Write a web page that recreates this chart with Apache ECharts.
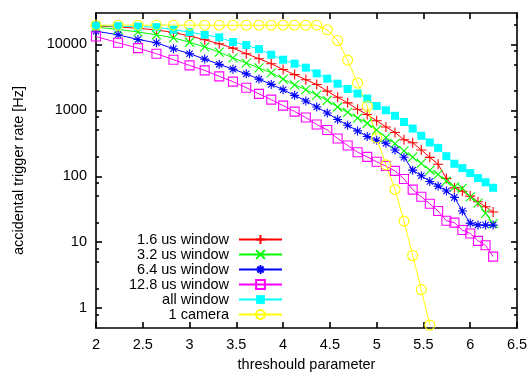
<!DOCTYPE html>
<html>
<head>
<meta charset="utf-8">
<script src="https://cdn.jsdelivr.net/npm/echarts@6/dist/echarts.min.js"></script>
<style>
  html, body { margin: 0; padding: 0; background: #fff; }
  #chart { width: 530px; height: 372px; }
</style>
</head>
<body>
<div id="chart"></div>
<script>
// threshold parameter at each measured point
const threshold = [2, 2.236, 2.449, 2.646, 2.828, 3, 3.162, 3.317, 3.464, 3.606, 3.742, 3.873,
  4, 4.123, 4.243, 4.359, 4.472, 4.583, 4.690, 4.796, 4.899, 5, 5.099, 5.196,
  5.292, 5.385, 5.477, 5.568, 5.657, 5.745, 5.831, 5.916, 6, 6.083, 6.164, 6.245];

// accidental trigger rates [Hz]
const rate16 = [19050, 18400, 17600, 16600, 15200, 13450, 11800, 10250, 8790, 7240, 6080, 5110,
  4160, 3490, 2920, 2470, 1960, 1580, 1300, 1040, 864, 695, 561, 463,
  359, 323, 251, 194, 152, 92.9, 66.8, 59.2, 50.1, 41.1, 34.5, 28.7];
const rate32 = [18300, 16900, 15500, 14000, 12600, 10800, 9170, 7650, 6260, 5220, 4410, 3710,
  2990, 2440, 2070, 1710, 1420, 1125, 936, 765, 638, 505, 387, 314,
  244, 195, 157, 123, 107, 84.5, 69.3, 65.5, 48.9, 39.3, 27.4, 19.2];
const rate64 = [15900, 14000, 11900, 10600, 8610, 7240, 6000, 4990, 4220, 3580, 2980, 2480,
  2060, 1690, 1390, 1125, 914, 726, 595, 488, 401, 352, 318, 251,
  195, 124, 102, 83.6, 71, 60, 47.9, 29.7, 19.5, 18.2, 18.2, 18.2];
const rate128 = [13200, 10600, 8790, 7240, 5870, 4810, 4040, 3280, 2730, 2210, 1780, 1455,
  1180, 959, 778, 612, 505, 374, 293, 232, 197, 166, 143, 121,
  91.2, 62.8, 48.9, 38.3, 29.7, 21.2, 19.8, 15.3, 13.6, 10.5, 9.0, 6.04];
const rateAll = [19400, 18900, 18600, 18300, 16700, 15400, 14000, 12800, 10900, 9770, 8500, 6980,
  5870, 5110, 4440, 3640, 3030, 2540, 2110, 1800, 1510, 1165, 1003, 828,
  667, 530, 412, 326, 270, 202, 155, 133, 112, 94, 81, 67];
const rateCamera = [19600, 19600, 19600, 19600, 19600, 19600, 19600, 19600, 19600, 19600, 19600, 19600,
  19600, 19600, 19600, 19600, 16700, 11500, 5790, 2600, 1165, 382, 149, 63.2,
  20.9, 6.3, 1.91, 0.553];

const seriesNames = ['1.6 us window', '3.2 us window', '6.4 us window', '12.8 us window', 'all window', '1 camera'];
const xTicks = [2, 2.5, 3, 3.5, 4, 4.5, 5, 5.5, 6, 6.5];
const yMajorTicks = [1, 10, 100, 1000, 10000];
const yMinorTicks = [0.8, 2, 5, 8, 20, 50, 80, 200, 500, 800, 2000, 5000, 8000, 20000];

const FONT = '"Liberation Sans", Arial, Helvetica, sans-serif';
const FS = 14.5;
const frame = { color: '#000', width: 1.6 };

const PLUS = 'path://M0,5L10,5M5,0L5,10';
const CROSS = 'path://M0,0L10,10M10,0L0,10';
const STAR = 'path://M0,5L10,5M5,0L5,10M1.5,1.5L8.5,8.5M8.5,1.5L1.5,8.5';

function pairs(ys) {
  return ys.map((y, i) => [threshold[i], y]);
}

function lineSeries(name, ys, color, symbol, size, filled) {
  return {
    name: name,
    type: 'line',
    data: pairs(ys),
    symbol: symbol,
    symbolSize: size,
    showAllSymbol: true,
    lineStyle: { color: color, width: 1 },
    itemStyle: filled
      ? { color: color, borderWidth: 0 }
      : { color: 'rgba(0,0,0,0)', borderColor: color, borderWidth: 1.1 },
    emphasis: { disabled: true },
    clip: true
  };
}

function yAxisDef(position, ticks, len, withLabels) {
  return {
    type: 'log',
    logBase: 10,
    min: 0.5,
    max: 30000,
    position: position,
    axisLine: { show: withLabels, lineStyle: frame },
    axisTick: { show: true, inside: true, length: len, customValues: ticks, lineStyle: frame },
    axisLabel: withLabels && position === 'left'
      ? { show: true, customValues: yMajorTicks, formatter: v => String(v),
          color: '#000', fontFamily: FONT, fontSize: FS, margin: 9 }
      : { show: false },
    splitLine: { show: false },
    minorTick: { show: false },
    minorSplitLine: { show: false }
  };
}

const chart = echarts.init(document.getElementById('chart'), null, { renderer: 'canvas' });

const yLeft = yAxisDef('left', yMajorTicks, 6, true);
yLeft.name = 'accidental trigger rate [Hz]';
yLeft.nameLocation = 'middle';
yLeft.nameGap = 70;
yLeft.nameTextStyle = { color: '#000', fontFamily: FONT, fontSize: FS };

chart.setOption({
  animation: false,
  backgroundColor: '#fff',
  grid: { left: 96, right: 13, top: 13, bottom: 44, outerBoundsMode: 'none' },
  legend: {
    orient: 'vertical',
    align: 'right',
    right: 247,
    top: 232,
    padding: 0,
    itemGap: 0,
    itemWidth: 43,
    itemHeight: 11,
    data: seriesNames,
    textStyle: { color: '#000', fontFamily: FONT, fontSize: FS, lineHeight: 15, padding: [0, 5, 0, 0] }
  },
  xAxis: [
    {
      type: 'value',
      min: 2,
      max: 6.5,
      interval: 0.5,
      position: 'bottom',
      name: 'threshould parameter',
      nameLocation: 'middle',
      nameGap: 29,
      nameTextStyle: { color: '#000', fontFamily: FONT, fontSize: FS },
      axisLine: { show: true, lineStyle: frame },
      axisTick: { show: true, inside: true, length: 6, customValues: xTicks, lineStyle: frame },
      axisLabel: { show: true, customValues: xTicks, color: '#000', fontFamily: FONT, fontSize: FS, margin: 9 },
      splitLine: { show: false }
    },
    {
      type: 'value',
      min: 2,
      max: 6.5,
      interval: 0.5,
      position: 'top',
      axisLine: { show: true, lineStyle: frame },
      axisTick: { show: true, inside: true, length: 6, customValues: xTicks, lineStyle: frame },
      axisLabel: { show: false },
      splitLine: { show: false }
    }
  ],
  yAxis: [
    yLeft,
    yAxisDef('right', yMajorTicks, 6, true),
    yAxisDef('left', yMinorTicks, 3, false),
    yAxisDef('right', yMinorTicks, 3, false)
  ],
  series: [
    lineSeries(seriesNames[0], rate16, '#ff0000', PLUS, 10, false),
    lineSeries(seriesNames[1], rate32, '#00ff00', CROSS, 9, false),
    lineSeries(seriesNames[2], rate64, '#0000ff', STAR, 9, false),
    lineSeries(seriesNames[3], rate128, '#ff00ff', 'rect', 9, false),
    lineSeries(seriesNames[4], rateAll, '#00ffff', 'rect', 8, true),
    lineSeries(seriesNames[5], rateCamera, '#ffff00', 'circle', 10, false)
  ]
});
</script>
</body>
</html>
